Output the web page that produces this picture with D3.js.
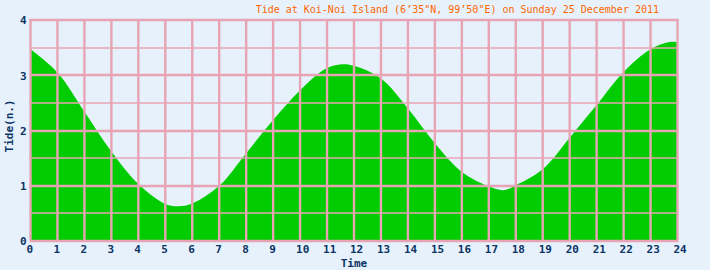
<!DOCTYPE html>
<html><head><meta charset="utf-8">
<script src="https://cdn.jsdelivr.net/npm/d3@7"></script>
<style>
html,body{margin:0;padding:0;background:#e6f1fc;}
svg{display:block;}
</style></head>
<body>
<svg id="chart" width="710" height="270"></svg>
<script>
const title = "Tide at Koi-Noi Island (6\u201935\"N, 99\u201950\"E) on Sunday 25 December 2011";
const xLabel = "Time";
const yLabel = "Tide(n.)";
const hours = [0,1,2,3,4,5,5.5,6,7,8,9,10,11,11.6,12,13,14,15,16,17,17.55,18,19,20,21,22,23,23.7,24];
const heights = [3.47,3.05,2.34,1.62,1.03,0.67,0.63,0.68,1.0,1.59,2.19,2.73,3.13,3.2,3.17,2.94,2.40,1.77,1.25,0.99,0.92,1.01,1.30,1.87,2.46,3.06,3.47,3.6,3.6];
const xTicks = d3.range(0,25,1);
const yTicks = [0,1,2,3,4];
const yGrid = d3.range(0,4.01,0.5);

const svg = d3.select("#chart");
const x = d3.scaleLinear().domain([0,24]).range([30.5,677.5]);
const y = d3.scaleLinear().domain([0,4]).range([241,20]);
const data = hours.map((h,i)=>({h, v:heights[i]}));

const bg = "#e6f1fc", pink = "#e8a4b4", navy = "#0c3464";
svg.append("rect").attr("width",710).attr("height",270).attr("fill",bg);

const area = d3.area().x(d=>x(d.h)).y0(y(0)+1).y1(d=>y(d.v)).curve(d3.curveCatmullRom.alpha(0.5));
svg.append("path").datum(data).attr("d",area).attr("fill","#00cc00");

// horizontal grid
svg.append("g").selectAll("line").data(yGrid).join("line")
  .attr("x1",x(0)-1).attr("x2",x(24)+1)
  .attr("y1",d=>Math.round(y(d))).attr("y2",d=>Math.round(y(d)))
  .attr("stroke",pink).attr("stroke-width",d=>d%1===0?2.4:1.3);
// vertical grid
svg.append("g").selectAll("line").data(xTicks).join("line")
  .attr("x1",d=>x(d)).attr("x2",d=>x(d))
  .attr("y1",y(4)-1).attr("y2",y(0)-1)
  .attr("stroke",pink).attr("stroke-width",2.4);

const font = "'DejaVu Sans Mono', monospace";
// x axis labels
const xa = svg.append("g").attr("transform",`translate(0,${y(0)})`)
  .call(d3.axisBottom(x).tickValues(xTicks).tickSize(0).tickPadding(12).tickFormat(d3.format("d")));
xa.select(".domain").remove();
xa.selectAll("text").attr("font-family",font).attr("font-weight","bold").attr("font-size",11)
  .attr("fill",navy).attr("text-anchor","start").attr("dx",-4.5).attr("dy","0");
// y axis labels
const ya = svg.append("g").attr("transform",`translate(${x(0)},0)`)
  .call(d3.axisLeft(y).tickValues(yTicks).tickSize(0).tickPadding(4).tickFormat(d3.format("d")));
ya.select(".domain").remove();
ya.selectAll("text").attr("font-family",font).attr("font-weight","bold").attr("font-size",11)
  .attr("fill",navy).attr("dy","0.35em");

svg.append("text").attr("x",354).attr("y",267).attr("text-anchor","middle")
  .attr("font-family",font).attr("font-weight","bold").attr("font-size",11).attr("fill",navy).text(xLabel);
svg.append("text").attr("transform","translate(13,126) rotate(-90)").attr("text-anchor","middle")
  .attr("font-family",font).attr("font-weight","bold").attr("font-size",11).attr("fill",navy).text(yLabel);
svg.append("text").attr("x",659).attr("y",13).attr("text-anchor","end")
  .attr("font-family",font).attr("font-size",10).attr("fill","#ff6600").text(title);
</script>
</body></html>
